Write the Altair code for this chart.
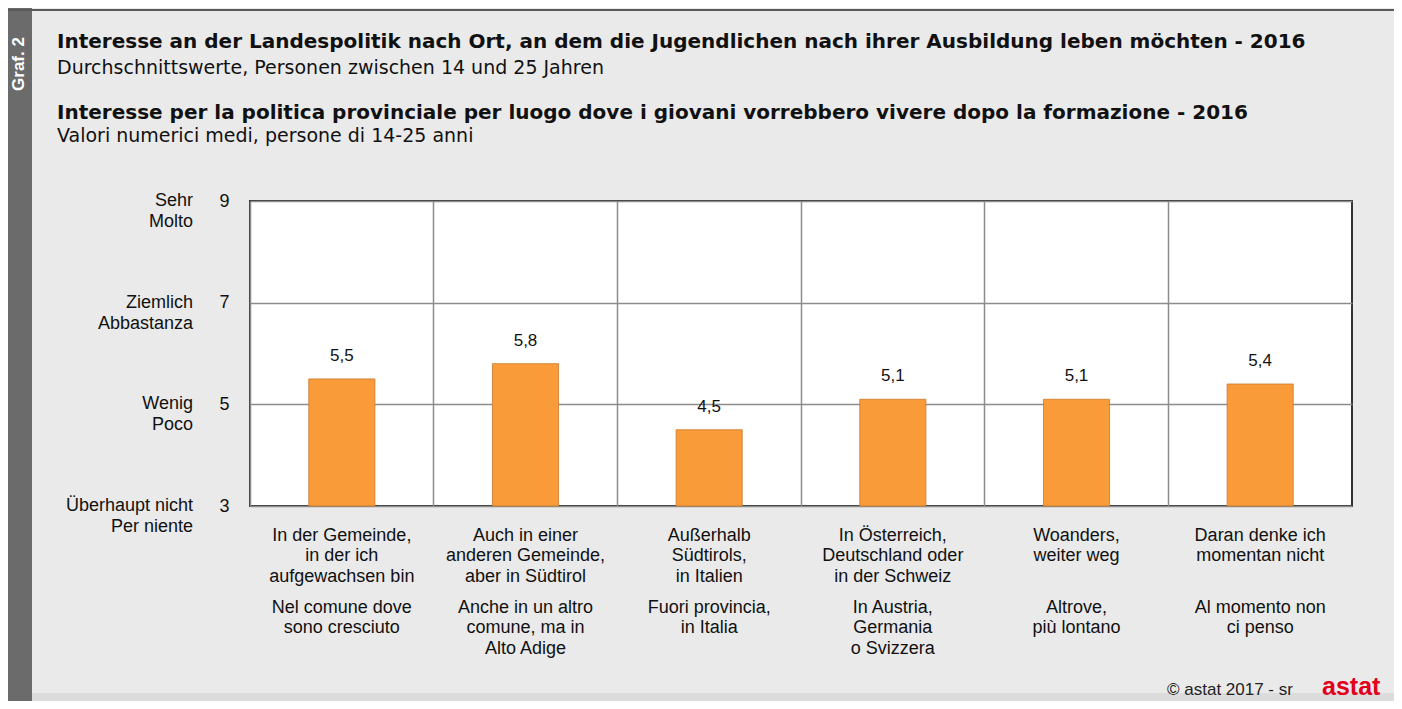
import altair as alt
import pandas as pd

# ---- data ----
categories_de = [
    "In der Gemeinde,\nin der ich\naufgewachsen bin",
    "Auch in einer\nanderen Gemeinde,\naber in Südtirol",
    "Außerhalb\nSüdtirols,\nin Italien",
    "In Österreich,\nDeutschland oder\nin der Schweiz",
    "Woanders,\nweiter weg",
    "Daran denke ich\nmomentan nicht",
]
categories_it = [
    "Nel comune dove\nsono cresciuto",
    "Anche in un altro\ncomune, ma in\nAlto Adige",
    "Fuori provincia,\nin Italia",
    "In Austria,\nGermania\no Svizzera",
    "Altrove,\npiù lontano",
    "Al momento non\nci penso",
]
values = [5.5, 5.8, 4.5, 5.1, 5.1, 5.4]
y_ticks = [9, 7, 5, 3]
y_words = ["Sehr\nMolto", "Ziemlich\nAbbastanza", "Wenig\nPoco", "Überhaupt nicht\nPer niente"]

title_de = "Interesse an der Landespolitik nach Ort, an dem die Jugendlichen nach ihrer Ausbildung leben möchten - 2016"
subtitle_de = "Durchschnittswerte, Personen zwischen 14 und 25 Jahren"
title_it = "Interesse per la politica provinciale per luogo dove i giovani vorrebbero vivere dopo la formazione - 2016"
subtitle_it = "Valori numerici medi, persone di 14-25 anni"

FONT = "Liberation Sans"
TFONT = "DejaVu Sans"
W, H = 1102, 305
PAD_L, PAD_T = 242, 193
TOTAL_W, TOTAL_H = 1386, 693

df = pd.DataFrame({"cat": categories_de, "it": categories_it, "value": values})
df_y = pd.DataFrame({"tick": y_ticks, "word": y_words})
one = pd.DataFrame({"k": [0]})

x_enc = alt.X("cat:N", sort=None, scale=alt.Scale(paddingInner=0, paddingOuter=0),
              axis=alt.Axis(labels=False, ticks=False, domain=False, title=None, grid=True,
                            bandPosition=0, gridColor="#8c8c8c", gridWidth=1.5))
y_scale = alt.Scale(domain=[3, 9], nice=False, zero=False)

bars = alt.Chart(df).mark_bar(color="#f99b38", stroke="#c8782c", strokeWidth=0.8,
                              width=alt.RelativeBandSize(0.36)).encode(
    x=x_enc,
    y=alt.Y("value:Q", scale=y_scale,
            axis=alt.Axis(values=y_ticks, title=None, ticks=False, domain=False,
                          labelFontSize=18, labelColor="#111", labelFont=FONT,
                          labelPadding=21, grid=True, gridColor="#8c8c8c", gridWidth=1.5)),
    y2=alt.datum(3),
)

value_labels = alt.Chart(df).transform_calculate(
    lbl="replace(format(datum.value, '.1f'), '.', ',')"
).mark_text(fontSize=17, font=FONT, color="#111", baseline="middle", dy=-23).encode(
    x=alt.X("cat:N", sort=None),
    y=alt.Y("value:Q", scale=y_scale),
    text="lbl:N",
)

de_labels = alt.Chart(df).mark_text(fontSize=18, font=FONT, color="#111", lineBreak="\n",
                                    lineHeight=20.7, baseline="alphabetic", align="center").encode(
    x=alt.X("cat:N", sort=None), y=alt.value(339.5), text="cat:N")
it_labels = alt.Chart(df).mark_text(fontSize=18, font=FONT, color="#111", lineBreak="\n",
                                    lineHeight=20.7, baseline="alphabetic", align="center").encode(
    x=alt.X("cat:N", sort=None), y=alt.value(411.5), text="it:N")

y_word_labels = alt.Chart(df_y).mark_text(fontSize=18, font=FONT, color="#111", lineBreak="\n",
                                          lineHeight=21, align="right", baseline="middle").encode(
    x=alt.value(-57), y=alt.Y("tick:Q", scale=y_scale), text="word:N")

# ---- decorations ----
left_band = alt.Chart(one).mark_rect(color="#6b6b6b").encode(
    x=alt.value(-PAD_L), x2=alt.value(-PAD_L + 24), y=alt.value(-PAD_T), y2=alt.value(TOTAL_H - PAD_T))
bottom_strip = alt.Chart(one).mark_rect(color="#dcdcdc").encode(
    x=alt.value(-PAD_L + 24), x2=alt.value(TOTAL_W - PAD_L), y=alt.value(492), y2=alt.value(TOTAL_H - PAD_T))
top_line = alt.Chart(one).mark_rule(color="#5a5a5a", strokeWidth=2).encode(
    x=alt.value(-PAD_L), x2=alt.value(TOTAL_W - PAD_L), y=alt.value(-191))
graf = alt.Chart(one).mark_text(text="Graf. 2", angle=270, color="white", fontWeight="bold",
                                fontSize=17, font=FONT, align="center", baseline="middle").encode(
    x=alt.value(-231), y=alt.value(-137))

def title_text(txt, y, bold, size):
    return alt.Chart(one).mark_text(text=txt, fontSize=size, font=TFONT, color="#111",
                                    fontWeight="bold" if bold else "normal",
                                    align="left", baseline="middle").encode(
        x=alt.value(-193), y=alt.value(y))

t1 = title_text(title_de, 42 - 201, True, 20)
s1 = title_text(subtitle_de, 68 - 201, False, 19)
t2 = title_text(title_it, 113 - 201, True, 20)
s2 = title_text(subtitle_it, 136 - 201, False, 19)

footer = alt.Chart(one).mark_text(text="©  astat 2017 - sr", fontSize=17, font=FONT, color="#222",
                                  align="left", baseline="alphabetic").encode(
    x=alt.value(1167 - 250), y=alt.value(494))
logo = alt.Chart(one).mark_text(text="astat", fontSize=25, font=FONT, color="#e2001a",
                                fontWeight="bold", align="left", baseline="alphabetic").encode(
    x=alt.value(1322 - 250), y=alt.value(494))

chart = alt.layer(
    left_band, bottom_strip, top_line, graf, t1, s1, t2, s2,
    bars, value_labels, de_labels, it_labels, y_word_labels, footer, logo,
).properties(
    width=W, height=H,
    autosize=alt.AutoSizeParams(type="none"),
    padding={"left": PAD_L, "top": PAD_T, "right": TOTAL_W - PAD_L - W, "bottom": TOTAL_H - PAD_T - H},
    background="#eaeaea",
).configure_view(
    fill="white", stroke="#333333", strokeWidth=2,
)

chart.save("out.html", embed_options={"renderer": "svg", "actions": False})
